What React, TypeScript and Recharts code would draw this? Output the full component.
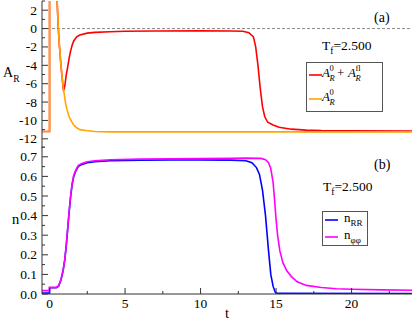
import React from 'react';
import { LineChart, Line, XAxis, YAxis, ReferenceLine } from 'recharts';

// ---------- axis ticks ----------
const T_TICKS = [0, 2.5, 5, 7.5, 10, 12.5, 15, 17.5, 20, 22.5];
const T_MAJOR = [0, 5, 10, 15, 20];

const A_TICKS = [-13, -12, -11, -10, -9, -8, -7, -6, -5, -4, -3, -2, -1, 0, 1, 2, 3];
const A_MAJOR = [-12, -10, -8, -6, -4, -2, 0, 2];

const N_TICKS = [0, 0.05, 0.1, 0.15, 0.2, 0.25, 0.3, 0.35, 0.4, 0.45, 0.5, 0.55, 0.6, 0.65, 0.7, 0.75];
const N_MAJOR = [0, 0.1, 0.2, 0.3, 0.4, 0.5, 0.6, 0.7];
const N_LABELS = ['0.0', '0.1', '0.2', '0.3', '0.4', '0.5', '0.6', '0.7'];

// ---------- series (a) ----------
const redT = [-0.5, 0, 0, 0.2, 0.35, 0.45, 0.5, 0.58, 0.65, 0.75, 0.8, 0.85, 0.88, 0.92, 0.97, 1.03, 1.1, 1.2, 1.3, 1.4, 1.5, 1.6, 1.8, 2.0, 2.5, 3, 4, 5, 7, 10, 12, 12.8, 13.2, 13.5, 13.65, 13.8, 13.95, 14.1, 14.25, 14.45, 14.8, 15.2, 16, 17, 18, 20, 24];
const redA = [-11.2, -11.2, 60, 25, 9, 4.5, 3, 0, -1.8, -3.9, -4.8, -5.6, -6.2, -6.7, -6.6, -6.0, -5.1, -4.2, -3.2, -2.4, -1.8, -1.35, -0.9, -0.7, -0.5, -0.42, -0.35, -0.3, -0.26, -0.25, -0.26, -0.3, -0.45, -0.9, -2, -4, -6.5, -8.5, -9.6, -10.2, -10.5, -10.75, -10.95, -11.05, -11.1, -11.12, -11.15];

const orangeT = [-0.5, 0, 0, 0.2, 0.35, 0.45, 0.5, 0.58, 0.65, 0.75, 0.85, 0.95, 1.05, 1.15, 1.3, 1.45, 1.6, 1.8, 2.0, 2.4, 3, 4, 24];
const orangeA = [-11.2, -11.2, 60, 25, 9, 4.5, 3, 0, -1.8, -3.9, -5.6, -6.9, -8.0, -8.8, -9.6, -10.1, -10.5, -10.8, -11.0, -11.1, -11.2, -11.25, -11.25];

// ---------- series (b) ----------
const blueT = [-0.5, 0, 0, 0.45, 0.6, 0.75, 0.9, 1.0, 1.1, 1.2, 1.3, 1.4, 1.5, 1.6, 1.75, 1.9, 2.1, 2.5, 3, 4, 6, 8, 10, 12, 13, 13.4, 13.7, 13.9, 14.1, 14.3, 14.5, 14.65, 14.8, 14.95, 15.1, 24];
const blueN = [0.005, 0.005, 0.032, 0.032, 0.04, 0.07, 0.12, 0.17, 0.24, 0.33, 0.42, 0.5, 0.56, 0.6, 0.63, 0.65, 0.66, 0.67, 0.675, 0.68, 0.683, 0.684, 0.684, 0.683, 0.68, 0.67, 0.645, 0.61, 0.53, 0.4, 0.22, 0.1, 0.04, 0.008, 0.003, 0.002];

const magT = [-0.5, 0, 0, 0.45, 0.6, 0.75, 0.9, 1.0, 1.1, 1.2, 1.3, 1.4, 1.5, 1.6, 1.75, 1.9, 2.1, 2.5, 3, 4, 6, 8, 10, 12, 13, 14, 14.3, 14.5, 14.65, 14.8, 14.9, 15.0, 15.1, 15.25, 15.45, 15.7, 16, 16.4, 17, 18, 19, 20, 22, 24];
const magN = [0.017, 0.017, 0.034, 0.034, 0.042, 0.072, 0.122, 0.172, 0.245, 0.335, 0.425, 0.505, 0.565, 0.605, 0.635, 0.655, 0.665, 0.675, 0.68, 0.685, 0.688, 0.69, 0.691, 0.692, 0.693, 0.692, 0.685, 0.67, 0.64, 0.57, 0.48, 0.38, 0.3, 0.22, 0.16, 0.12, 0.09, 0.062, 0.044, 0.033, 0.027, 0.024, 0.021, 0.019];

const toData = (ts: number[], vs: number[]) => ts.map((t, i) => ({ t, v: vs[i] }));
const redData = toData(redT, redA);
const orangeData = toData(orangeT, orangeA);
const blueData = toData(blueT, blueN);
const magData = toData(magT, magN);

const FRAME = '#333';
const FONT = "'Liberation Serif'";
const TXT: React.CSSProperties = { fontFamily: FONT };

const isIn = (arr: number[], v: number) => arr.some((a) => Math.abs(a - v) < 1e-6);

const makeXTick = (side: 'bottom' | 'top', showLabels: boolean) => (p: any) => {
  const v = p.payload.value;
  const major = isIn(T_MAJOR, v);
  const len = major ? 6 : 3;
  const dir = side === 'bottom' ? -1 : 1;
  return (
    <g>
      <line x1={p.x} x2={p.x} y1={p.y} y2={p.y + dir * len} stroke={FRAME} strokeWidth={1} />
      {showLabels && major && (
        <text x={p.x} y={p.y + 14} textAnchor="middle" style={{ ...TXT, fontSize: 13.5 }} fill="#000">
          {String(v)}
        </text>
      )}
    </g>
  );
};

const makeYTick = (side: 'left' | 'right', major: number[], label?: (v: number) => string) => (p: any) => {
  const v = p.payload.value;
  const isMajor = isIn(major, v);
  const len = isMajor ? 6 : 3;
  const dir = side === 'left' ? 1 : -1;
  return (
    <g>
      <line x1={p.x} x2={p.x + dir * len} y1={p.y} y2={p.y} stroke={FRAME} strokeWidth={1} />
      {label && isMajor && (
        <text x={p.x - 5} y={p.y + 4.5} textAnchor="end" style={{ ...TXT, fontSize: 13.5 }} fill="#000">
          {label(v)}
        </text>
      )}
    </g>
  );
};

const nLabel = (v: number) => {
  const i = N_MAJOR.findIndex((m) => Math.abs(m - v) < 1e-6);
  return i >= 0 ? N_LABELS[i] : '';
};

export default function App() {
  return (
    <div style={{ position: 'absolute', left: 0, top: 0, width: 415, height: 320, background: '#fff' }}>
      <div style={{ position: 'absolute', left: 0, top: 0 }}>
        <LineChart width={415} height={148} margin={{ top: 1, right: 3, bottom: 0, left: 0 }}>
          <XAxis xAxisId={0} dataKey="t" type="number" domain={[-0.5, 24]} allowDataOverflow ticks={T_TICKS} interval={0}
            height={0} tickSize={0} tickMargin={0} axisLine={{ stroke: FRAME }} tickLine={false} tick={makeXTick('bottom', false)} />
          <XAxis xAxisId="top" orientation="top" dataKey="t" type="number" domain={[-0.5, 24]} allowDataOverflow ticks={T_TICKS} interval={0}
            height={0} tickSize={0} tickMargin={0} axisLine={{ stroke: FRAME }} tickLine={false} tick={makeXTick('top', false)} />
          <YAxis yAxisId={0} type="number" domain={[-13, 3]} allowDataOverflow ticks={A_TICKS} interval={0}
            width={42} tickSize={0} tickMargin={0} axisLine={{ stroke: FRAME }} tickLine={false}
            tick={makeYTick('left', A_MAJOR, (v) => String(v))} />
          <YAxis yAxisId="r" orientation="right" type="number" domain={[-13, 3]} allowDataOverflow ticks={A_TICKS} interval={0}
            width={0} tickSize={0} tickMargin={0} axisLine={{ stroke: FRAME }} tickLine={false}
            tick={makeYTick('right', A_MAJOR)} />
          <ReferenceLine y={0} stroke="#888" strokeDasharray="3 2" strokeWidth={1} />
          <Line data={redData} dataKey="v" type="linear" stroke="#ff0000" strokeWidth={1.6} dot={false} isAnimationActive={false} />
          <Line data={orangeData} dataKey="v" type="linear" stroke="#ffa500" strokeWidth={1.6} dot={false} isAnimationActive={false} />
        </LineChart>
      </div>
      <div style={{ position: 'absolute', left: 0, top: 146 }}>
        <LineChart width={415} height={174} margin={{ top: 1, right: 3, bottom: 0, left: 0 }}>
          <XAxis xAxisId={0} dataKey="t" type="number" domain={[-0.5, 24]} allowDataOverflow ticks={T_TICKS} interval={0}
            height={26} tickSize={0} tickMargin={0} axisLine={{ stroke: FRAME }} tickLine={false} tick={makeXTick('bottom', true)} />
          <XAxis xAxisId="top" orientation="top" dataKey="t" type="number" domain={[-0.5, 24]} allowDataOverflow ticks={T_TICKS} interval={0}
            height={0} tickSize={0} tickMargin={0} axisLine={{ stroke: FRAME }} tickLine={false} tick={makeXTick('top', false)} />
          <YAxis yAxisId={0} type="number" domain={[0, 0.75]} allowDataOverflow ticks={N_TICKS} interval={0}
            width={42} tickSize={0} tickMargin={0} axisLine={{ stroke: FRAME }} tickLine={false}
            tick={makeYTick('left', N_MAJOR, nLabel)} />
          <YAxis yAxisId="r" orientation="right" type="number" domain={[0, 0.75]} allowDataOverflow ticks={N_TICKS} interval={0}
            width={0} tickSize={0} tickMargin={0} axisLine={{ stroke: FRAME }} tickLine={false}
            tick={makeYTick('right', N_MAJOR)} />
          <Line data={blueData} dataKey="v" type="linear" stroke="#0000ff" strokeWidth={1.6} dot={false} isAnimationActive={false} />
          <Line data={magData} dataKey="v" type="linear" stroke="#ff00ff" strokeWidth={1.6} dot={false} isAnimationActive={false} />
        </LineChart>
      </div>
      <svg width={415} height={320} style={{ position: 'absolute', left: 0, top: 0, pointerEvents: 'none', fontFamily: FONT }}>
        {/* axis titles */}
        <text x={3} y={77} style={{ ...TXT, fontSize: 14 }}>A<tspan style={{ fontSize: 9.5 }} dy={5}>R</tspan></text>
        <text x={12} y={224} style={{ ...TXT, fontSize: 14.5 }}>n</text>
        <text x={225} y={318} style={{ ...TXT, fontSize: 14.5 }}>t</text>
        {/* panel tags */}
        <text x={374} y={22} style={{ ...TXT, fontSize: 14 }}>(a)</text>
        <text x={374} y={169} style={{ ...TXT, fontSize: 14 }}>(b)</text>
        {/* T_f */}
        <text x={322} y={50} style={{ ...TXT, fontSize: 13.5 }}>T<tspan style={{ fontSize: 9.5 }} dy={4}>f</tspan><tspan dy={-4}>=2.500</tspan></text>
        <text x={323} y={191} style={{ ...TXT, fontSize: 13.5 }}>T<tspan style={{ fontSize: 9.5 }} dy={4}>f</tspan><tspan dy={-4}>=2.500</tspan></text>
        {/* legend (a) */}
        <rect x={306.5} y={62.5} width={76} height={49} fill="#fff" stroke="#555" strokeWidth={1} />
        <line x1={309} x2={322} y1={75} y2={75} stroke="#ff0000" strokeWidth={1.6} />
        <text style={{ ...TXT, fontSize: 13 }}>
          <tspan x={322} y={77} fontStyle="italic">A</tspan>
          <tspan x={329.5} y={71} style={{ fontSize: 8.5 }}>0</tspan>
          <tspan x={329.5} y={80.5} style={{ fontSize: 8.5 }} fontStyle="italic">R</tspan>
          <tspan x={337} y={77}>+</tspan>
          <tspan x={348} y={77} fontStyle="italic">A</tspan>
          <tspan x={355.5} y={71} style={{ fontSize: 8.5 }}>fl</tspan>
          <tspan x={355.5} y={80.5} style={{ fontSize: 8.5 }} fontStyle="italic">R</tspan>
        </text>
        <line x1={309} x2={322} y1={99} y2={99} stroke="#ffa500" strokeWidth={1.6} />
        <text style={{ ...TXT, fontSize: 13 }}>
          <tspan x={322} y={101} fontStyle="italic">A</tspan>
          <tspan x={329.5} y={95} style={{ fontSize: 8.5 }}>0</tspan>
          <tspan x={329.5} y={104.5} style={{ fontSize: 8.5 }} fontStyle="italic">R</tspan>
        </text>
        {/* legend (b) */}
        <rect x={322.5} y={211.5} width={45} height={34} fill="#fff" stroke="#555" strokeWidth={1} />
        <line x1={325} x2={338} y1={220} y2={220} stroke="#0000ff" strokeWidth={1.6} />
        <text x={344} y={222} style={{ ...TXT, fontSize: 13 }}>n<tspan style={{ fontSize: 9 }} dy={4}>RR</tspan></text>
        <line x1={325} x2={338} y1={237} y2={237} stroke="#ff00ff" strokeWidth={1.6} />
        <text x={344} y={239} style={{ ...TXT, fontSize: 13 }}>n<tspan style={{ fontSize: 9 }} dy={4}>φφ</tspan></text>
      </svg>
    </div>
  );
}
